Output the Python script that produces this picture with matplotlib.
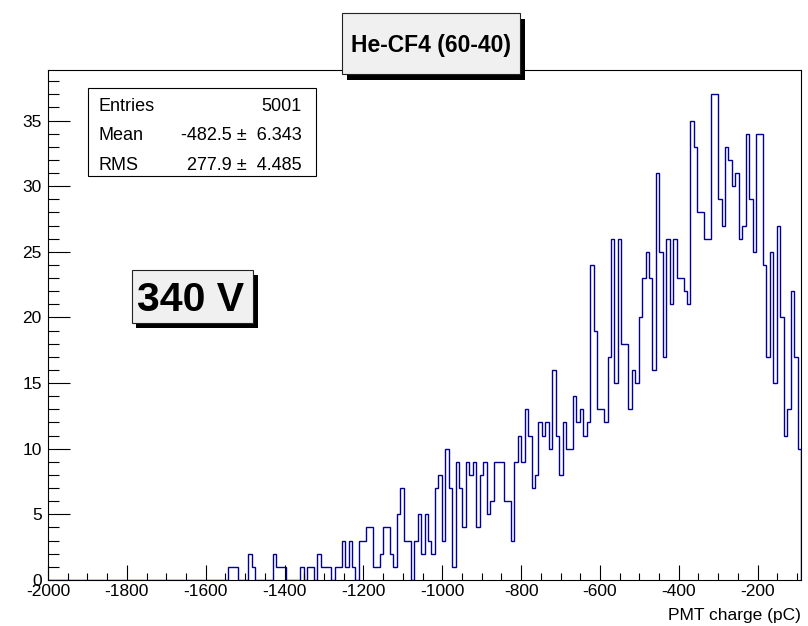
import matplotlib
matplotlib.use("Agg")
import matplotlib.pyplot as plt
import numpy as np
from matplotlib.patches import Rectangle
from matplotlib.ticker import MultipleLocator, FixedLocator

plt.rcParams['font.family'] = ['Liberation Sans', 'DejaVu Sans']
plt.rcParams['axes.unicode_minus'] = False

# ---------------- data ----------------
x_min, x_max = -2000.0, -90.0
n_bins = 218
# non-zero bins: index -> count
bin_index = [52, 53, 54, 58, 59, 65, 66, 67, 68, 73, 75, 76, 78, 79, 80, 81,
             83, 84, 85, 86, 87, 88, 90, 91, 92, 93, 94, 95, 96, 97, 98, 99,
             100, 101, 102, 103, 104, 106, 107, 108, 109, 110, 111, 112, 113, 114, 115, 116,
             117, 118, 119, 120, 121, 122, 123, 124, 125, 126, 127, 128, 129, 130, 131, 132,
             133, 134, 135, 136, 137, 138, 139, 140, 141, 142, 143, 144, 145, 146, 147, 148,
             149, 150, 151, 152, 153, 154, 155, 156, 157, 158, 159, 160, 161, 162, 163, 164,
             165, 166, 167, 168, 169, 170, 171, 172, 173, 174, 175, 176, 177, 178, 179, 180,
             181, 182, 183, 184, 185, 186, 187, 188, 189, 190, 191, 192, 193, 194, 195, 196,
             197, 198, 199, 200, 201, 202, 203, 204, 205, 206, 207, 208, 209, 210, 211, 212,
             213, 214, 215, 216, 217]
bin_count = [1, 1, 1, 2, 1, 2, 1, 1, 1, 1, 1, 1, 2, 1, 1, 1,
             1, 1, 3, 1, 3, 1, 3, 3, 4, 4, 1, 1, 2, 4, 4, 2,
             1, 5, 7, 3, 3, 3, 5, 2, 5, 3, 2, 7, 8, 3, 10, 7,
             1, 9, 7, 4, 9, 8, 9, 4, 8, 9, 5, 6, 9, 9, 9, 6,
             6, 3, 9, 11, 9, 13, 11, 7, 8, 12, 11, 12, 10, 16, 11, 8,
             12, 10, 10, 14, 12, 13, 11, 12, 24, 19, 13, 13, 12, 17, 26, 15,
             26, 18, 18, 13, 16, 15, 20, 23, 25, 23, 16, 31, 25, 17, 26, 21,
             26, 23, 23, 22, 21, 35, 33, 28, 28, 26, 26, 37, 37, 29, 27, 33,
             32, 30, 31, 26, 27, 34, 29, 25, 34, 34, 24, 17, 25, 15, 27, 20,
             11, 13, 22, 17, 10]

x_ticks = [-2000, -1800, -1600, -1400, -1200, -1000, -800, -600, -400, -200]
y_ticks = [0, 5, 10, 15, 20, 25, 30, 35]

title_text = "He-CF4 (60-40)"
voltage_text = "340 V"
x_label = "PMT charge (pC)"
stat_names = ["Entries", "Mean", "RMS"]
stat_values = ["5001", "-482.5 \u00b1  6.343", "277.9 \u00b1  4.485"]

counts = np.zeros(n_bins)
counts[bin_index] = bin_count
edges = np.linspace(x_min, x_max, n_bins + 1)

# ---------------- figure ----------------
W, H = 808, 626
fig = plt.figure(figsize=(W / 100, H / 100), dpi=100)
fig.patch.set_facecolor('white')

def fx(px):
    return px / W

def fy(py):
    return 1 - py / H

ax = fig.add_axes([fx(48), fy(580), 753 / W, 510 / H])
ax.stairs(counts, edges, color='#000099', lw=1.0, baseline=0)
ax.set_xlim(x_min, x_max)
ax.set_ylim(0, counts.max() * 1.05)

ax.xaxis.set_major_locator(FixedLocator(x_ticks))
ax.set_xticklabels([str(t) for t in x_ticks])
ax.xaxis.set_minor_locator(MultipleLocator(50))
ax.yaxis.set_major_locator(FixedLocator(y_ticks))
ax.set_yticklabels([str(t) for t in y_ticks])
ax.yaxis.set_minor_locator(MultipleLocator(1))
ax.tick_params(axis='both', which='both', direction='in', top=False, right=False,
               color='black', width=0.8, labelsize=12.5)
ax.tick_params(axis='x', which='major', length=10.8, pad=3)
ax.tick_params(axis='x', which='minor', length=5.4)
ax.tick_params(axis='y', which='major', length=15.8, pad=4.5)
ax.tick_params(axis='y', which='minor', length=7.9)
for s in ax.spines.values():
    s.set_linewidth(0.8)
    s.set_color('black')

fig.text(fx(801), fy(620), x_label, ha='right', va='baseline', fontsize=12.5)

def shadow_box(x0, y0, x1, y1, dx, dy, face):
    fig.add_artist(Rectangle((fx(x0 + dx), fy(y1 + dy)), (x1 - x0) / W, (y1 - y0) / H,
                             transform=fig.transFigure, facecolor='black',
                             edgecolor='black', lw=0, zorder=5))
    fig.add_artist(Rectangle((fx(x0), fy(y1)), (x1 - x0) / W, (y1 - y0) / H,
                             transform=fig.transFigure, facecolor=face,
                             edgecolor='#222222', lw=0.8, zorder=6))

# title box
shadow_box(342, 13, 520, 74, 5, 6, '#f0f0f0')
fig.text(fx(431), fy(51.7), title_text, ha='center', va='baseline',
         fontsize=16.5, fontweight='bold', zorder=7)

# voltage box
shadow_box(131.7, 270, 253.3, 323.3, 4.5, 5, '#f0f0f0')
fig.text(fx(190.7), fy(311), voltage_text, ha='center', va='baseline',
         fontsize=29.5, fontweight='bold', zorder=7)

# stats box
fig.add_artist(Rectangle((fx(88), fy(176)), (316 - 88) / W, (176 - 88) / H,
                         transform=fig.transFigure, facecolor='white',
                         edgecolor='black', lw=0.8, zorder=6))
for i, (nm, val) in enumerate(zip(stat_names, stat_values)):
    yb = [110.7, 140.5, 170.0][i]
    fig.text(fx(99), fy(yb), nm, ha='left', va='baseline', fontsize=13, zorder=7)
    fig.text(fx(302), fy(yb), val, ha='right', va='baseline', fontsize=13, zorder=7)

fig.savefig('out.png', dpi=100)
